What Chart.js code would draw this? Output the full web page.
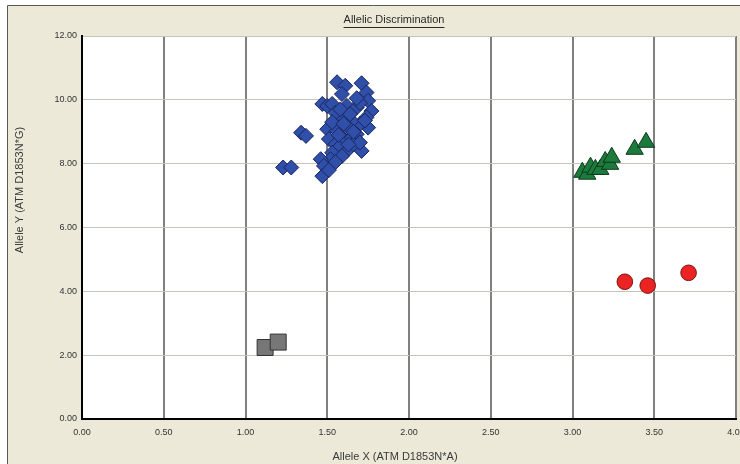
<!DOCTYPE html>
<html>
<head>
<meta charset="utf-8">
<title>Allelic Discrimination</title>
<script src="https://cdn.jsdelivr.net/npm/chart.js@4.4.1/dist/chart.umd.min.js"></script>
<style>
    html, body { margin: 0; padding: 0; background: #ffffff; }
    #wrap { width: 740px; height: 464px; }
</style>
</head>
<body>
<div id="wrap"><canvas id="alleleChart" width="740" height="464"></canvas></div>
<script>
// Dados
const xTicks = [0, 0.5, 1, 1.5, 2, 2.5, 3, 3.5, 4];
const yTicks = [0, 2, 4, 6, 8, 10, 12];

// Homozigoto Allele Y (losangos azuis)
const blueX = [1.56, 1.61, 1.71, 1.74, 1.75, 1.47, 1.50, 1.53, 1.59, 1.62, 1.68, 1.77, 1.74, 1.75,
               1.70, 1.65, 1.59, 1.55, 1.50, 1.56, 1.63, 1.68, 1.34, 1.37, 1.51, 1.55, 1.60, 1.65,
               1.57, 1.62, 1.71, 1.53, 1.59, 1.52, 1.46, 1.48, 1.47, 1.23, 1.28, 1.66, 1.70,
               1.58, 1.64, 1.70, 1.53, 1.60, 1.66, 1.57, 1.63, 1.55, 1.51, 1.68, 1.73];
const blueY = [10.55, 10.44, 10.52, 10.23, 9.97, 9.87, 9.81, 9.87, 10.18, 9.81, 9.76, 9.65, 9.45, 9.13,
               9.24, 9.34, 9.45, 9.60, 9.08, 9.03, 9.13, 8.92, 8.97, 8.87, 8.77, 8.61, 8.77, 8.82,
               8.50, 8.40, 8.40, 8.34, 8.24, 8.14, 8.14, 7.93, 7.61, 7.88, 7.88, 8.61, 8.66,
               9.70, 9.55, 9.90, 9.30, 9.25, 9.00, 8.90, 8.60, 8.05, 7.80, 10.05, 9.35];

// Heterozigoto (triângulos verdes)
const greenX = [3.06, 3.09, 3.11, 3.14, 3.17, 3.20, 3.23, 3.24, 3.38, 3.45];
const greenY = [7.73, 7.67, 7.89, 7.82, 7.82, 8.07, 7.98, 8.20, 8.45, 8.67];

// Homozigoto Allele X (círculos vermelhos)
const redX = [3.32, 3.46, 3.71];
const redY = [4.30, 4.18, 4.58];

// Sem amostra / NTC (quadrados cinza)
const grayX = [1.12, 1.20];
const grayY = [2.24, 2.41];

const titleText = 'Allelic Discrimination';
const xTitle = 'Allele X (ATM D1853N*A)';
const yTitle = 'Allele Y (ATM D1853N*G)';

function toPoints(xs, ys) {
    return xs.map((x, i) => ({ x: x, y: ys[i] }));
}

// Fundo bege, moldura e área branca
const backgroundPlugin = {
    id: 'background',
    beforeDraw(chart) {
        const ctx = chart.ctx;
        const area = chart.chartArea;
        ctx.save();
        ctx.fillStyle = '#ffffff';
        ctx.fillRect(0, 0, chart.width, chart.height);
        ctx.fillStyle = '#ece9d8';
        ctx.fillRect(8, 6, chart.width - 8, chart.height - 6);
        ctx.strokeStyle = '#5a5a52';
        ctx.lineWidth = 1;
        ctx.beginPath();
        ctx.moveTo(7.5, chart.height);
        ctx.lineTo(7.5, 5.5);
        ctx.lineTo(chart.width, 5.5);
        ctx.stroke();
        ctx.fillStyle = '#ffffff';
        ctx.fillRect(area.left, area.top, area.right - area.left, area.bottom - area.top);
        ctx.restore();
    },
    afterDraw(chart) {
        const ctx = chart.ctx;
        ctx.save();
        ctx.fillStyle = '#2a2a2a';
        ctx.font = '11px "Liberation Sans", Arial, sans-serif';
        ctx.textAlign = 'center';
        ctx.textBaseline = 'middle';

        // Título sublinhado
        ctx.fillText(titleText, 394, 20);
        const w = ctx.measureText(titleText).width;
        ctx.strokeStyle = '#2a2a2a';
        ctx.lineWidth = 1;
        ctx.beginPath();
        ctx.moveTo(394 - w / 2, 27.5);
        ctx.lineTo(394 + w / 2, 27.5);
        ctx.stroke();

        // Títulos dos eixos
        ctx.fillStyle = '#3a3a3a';
        ctx.fillText(xTitle, 395, 457);
        ctx.translate(20, 190);
        ctx.rotate(-Math.PI / 2);
        ctx.fillText(yTitle, 0, 0);
        ctx.restore();
    }
};

const ctx = document.getElementById('alleleChart').getContext('2d');

const chart = new Chart(ctx, {
    type: 'scatter',
    data: {
        datasets: [
            {
                label: 'Allele Y',
                data: toPoints(blueX, blueY),
                pointStyle: 'rectRot',
                pointRadius: 7.5,
                backgroundColor: '#2f4fa8',
                borderColor: '#1a2660',
                borderWidth: 1
            },
            {
                label: 'Both',
                data: toPoints(greenX, greenY),
                pointStyle: 'triangle',
                pointRadius: 10,
                backgroundColor: '#1c7a3c',
                borderColor: '#0d3a1b',
                borderWidth: 1
            },
            {
                label: 'Allele X',
                data: toPoints(redX, redY),
                pointStyle: 'circle',
                pointRadius: 7.8,
                backgroundColor: '#ec2323',
                borderColor: '#7a1414',
                borderWidth: 1
            },
            {
                label: 'NTC',
                data: toPoints(grayX, grayY),
                pointStyle: 'rect',
                pointRadius: 11.3,
                backgroundColor: '#777777',
                borderColor: '#333333',
                borderWidth: 1
            }
        ]
    },
    options: {
        responsive: false,
        animation: false,
        layout: {
            autoPadding: false,
            padding: { left: 0, top: 36, right: 4, bottom: 0 }
        },
        plugins: {
            legend: { display: false },
            tooltip: { enabled: false }
        },
        scales: {
            x: {
                type: 'linear',
                min: 0,
                max: 4,
                afterBuildTicks: (scale) => { scale.ticks = xTicks.map(v => ({ value: v })); },
                afterFit: (scale) => {
                    scale.height = 45;
                    scale.paddingLeft = 0;
                    scale.paddingRight = 0;
                },
                ticks: {
                    callback: (v) => Number(v).toFixed(2),
                    font: { family: '"Liberation Sans", Arial, sans-serif', size: 9 },
                    color: '#333333',
                    padding: 8,
                    maxRotation: 0,
                    autoSkip: false
                },
                grid: {
                    color: '#808080',
                    lineWidth: 2,
                    drawTicks: false
                },
                border: { display: true, color: '#000000', width: 2 }
            },
            y: {
                type: 'linear',
                min: 0,
                max: 12,
                afterBuildTicks: (scale) => { scale.ticks = yTicks.map(v => ({ value: v })); },
                afterFit: (scale) => {
                    scale.width = 82;
                    scale.paddingTop = 0;
                    scale.paddingBottom = 0;
                },
                ticks: {
                    callback: (v) => Number(v).toFixed(2),
                    font: { family: '"Liberation Sans", Arial, sans-serif', size: 9 },
                    color: '#333333',
                    padding: 5
                },
                grid: {
                    color: '#c6c6b6',
                    lineWidth: 1,
                    drawTicks: false
                },
                border: { display: true, color: '#000000', width: 2 }
            }
        }
    },
    plugins: [backgroundPlugin]
});
</script>
</body>
</html>
